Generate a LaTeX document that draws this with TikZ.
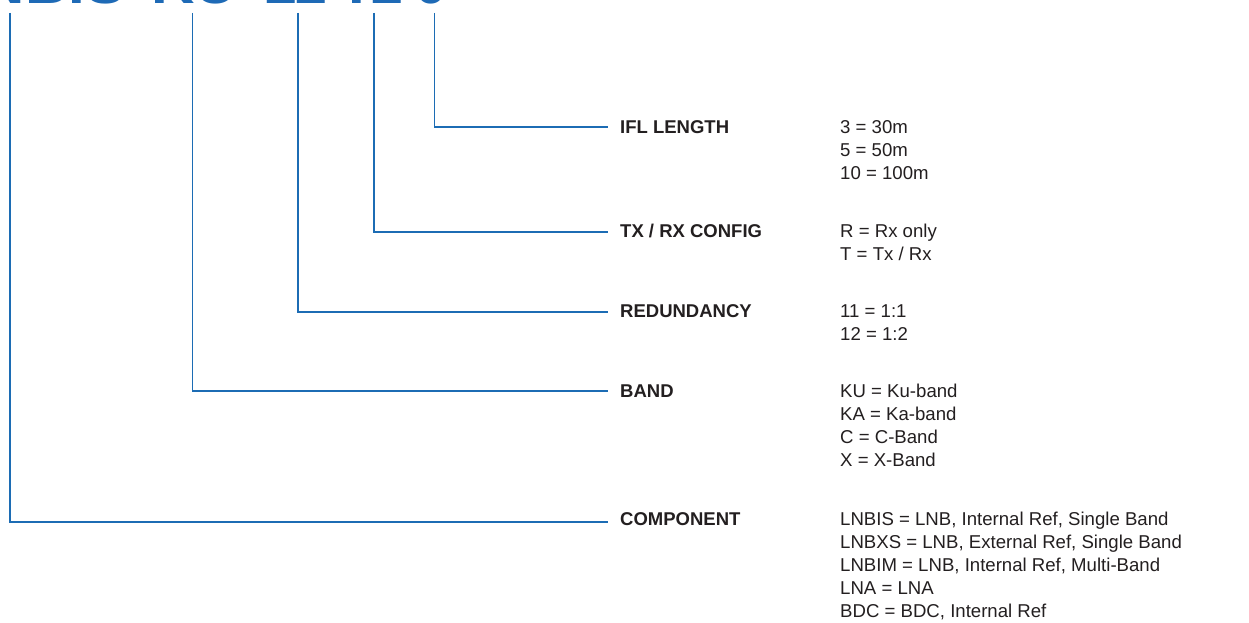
\documentclass[tikz,border=0pt]{standalone}
\usepackage{fontspec}
\setmainfont{Liberation Sans}
\setsansfont{Liberation Sans}
\definecolor{lineblue}{RGB}{28,108,180}
\definecolor{titleblue}{RGB}{30,106,182}
\definecolor{txt}{RGB}{35,31,32}
\newcommand\firstln{\rule{0pt}{14pt}}
\begin{document}
\begin{tikzpicture}[x=1pt,y=-1pt,
  conn/.style={draw=lineblue,line width=1.6pt},
  head/.style={anchor=base west,inner sep=0pt,font=\fontsize{18.5}{23}\selectfont\bfseries,text=txt},
  val/.style={anchor=north west,inner sep=0pt,align=left,font=\fontsize{18.6}{23}\selectfont,text=txt},
  titlestyle/.style={anchor=base west,inner sep=0pt,font=\fontsize{60}{60}\selectfont\bfseries,text=titleblue}]
\useasboundingbox (0,0) rectangle (1249,623);
\clip (0,0) rectangle (1249,623);
\fill[white] (0,0) rectangle (1249,623);
% title (only its lower edge is visible)
\node[titlestyle] (title) at (-55,3.8) {LNBIS-\kern6pt KU-\kern6pt 11\kern11pt T\kern-5pt 1\kern11.5pt 0};
% top ends of the connectors
\coordinate (c1) at (10,13);
\coordinate (c2) at (192.5,13);
\coordinate (c3) at (298,13);
\coordinate (c4) at (374,13);
\coordinate (c5) at (434.5,13);
% headings
\node[head] (ifl) at (620,133.3) {IFL LENGTH};
\node[head] (txrx) at (620,237.7) {TX / RX CONFIG};
\node[head] (red) at (620,317.3) {REDUNDANCY};
\node[head] (band) at (620,397.3) {BAND};
\node[head] (comp) at (620,525.7) {COMPONENT};
% values (first baseline = heading baseline)
\node[val] (iflv) at (840,119.3) {\firstln 3 = 30m\\5 = 50m\\10 = 100m};
\node[val] (txrxv) at (840,223.7) {\firstln R = Rx only\\T = Tx / Rx};
\node[val] (redv) at (840,303.3) {\firstln 11 = 1:1\\12 = 1:2};
\node[val] (bandv) at (840,383.3) {\firstln KU = Ku-band\\KA = Ka-band\\C = C-Band\\X = X-Band};
\node[val] (compv) at (840,511.7) {\firstln LNBIS = LNB, Internal Ref, Single Band\\LNBXS = LNB, External Ref, Single Band\\LNBIM = LNB, Internal Ref, Multi-Band\\LNA = LNA\\BDC = BDC, Internal Ref};
% connectors
\draw[conn] (c5) |- ([shift={(-12,-6)}]ifl.base west);
\draw[conn] (c4) |- ([shift={(-12,-5.7)}]txrx.base west);
\draw[conn] (c3) |- ([shift={(-12,-5.3)}]red.base west);
\draw[conn] (c2) |- ([shift={(-12,-6.6)}]band.base west);
\draw[conn] (c1) |- ([shift={(-12,-3.8)}]comp.base west);
\end{tikzpicture}
\end{document}
